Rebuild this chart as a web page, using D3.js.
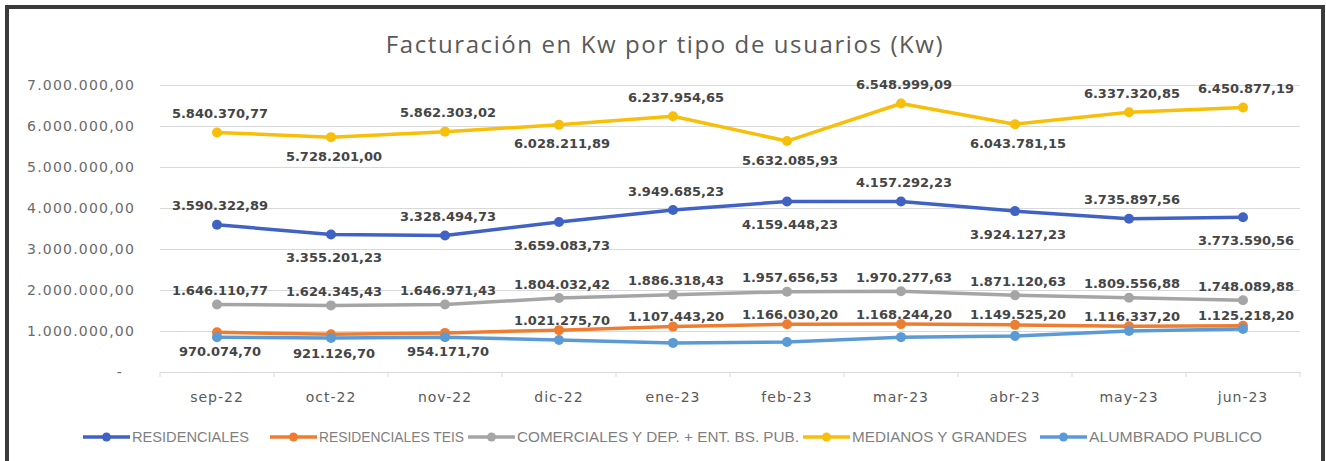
<!DOCTYPE html>
<html>
<head>
<meta charset="utf-8">
<script src="https://cdn.jsdelivr.net/npm/d3@7"></script>
<style>
  html, body { margin: 0; padding: 0; background: #fff; }
  svg { display: block; }
</style>
</head>
<body>
<svg id="chart" width="1326" height="461"></svg>
<script>
// ---- data ----
var months = ['sep-22', 'oct-22', 'nov-22', 'dic-22', 'ene-23', 'feb-23', 'mar-23', 'abr-23', 'may-23', 'jun-23'];

var residenciales = [3590322.89, 3355201.23, 3328494.73, 3659083.73, 3949685.23, 4159448.23, 4157292.23, 3924127.23, 3735897.56, 3773590.56];
var residencialesTeis = [970074.70, 921126.70, 954171.70, 1021275.70, 1107443.20, 1166030.20, 1168244.20, 1149525.20, 1116337.20, 1125218.20];
var comerciales = [1646110.77, 1624345.43, 1646971.43, 1804032.42, 1886318.43, 1957656.53, 1970277.63, 1871120.63, 1809556.88, 1748089.88];
var medianosGrandes = [5840370.77, 5728201.00, 5862303.02, 6028211.89, 6237954.65, 5632085.93, 6548999.09, 6043781.15, 6337320.85, 6450877.19];
// no labels in the picture, values estimated from the line
var alumbrado = [850000, 830000, 850000, 780000, 710000, 730000, 850000, 880000, 1000000, 1050000];

var yTicks = [0, 1000000, 2000000, 3000000, 4000000, 5000000, 6000000, 7000000];

// where Excel put each data label: a = above, b = below
var placeResid = ['a', 'b', 'a', 'b', 'a', 'b', 'a', 'b', 'a', 'b'];
var placeTeis = ['b', 'b', 'b', 'a', 'a', 'a', 'a', 'a', 'a', 'a'];
var placeComer = ['a', 'a', 'a', 'a', 'a', 'a', 'a', 'a', 'a', 'a'];
var placeMed = ['a', 'b', 'a', 'b', 'a', 'b', 'a', 'b', 'a', 'a'];

var series = [
    {name: 'RESIDENCIALES', values: residenciales, color: '#3f62c4', place: placeResid, above: -19, below: 23},
    {name: 'RESIDENCIALES TEIS', values: residencialesTeis, color: '#ed7d31', place: placeTeis, above: -10, below: 19},
    {name: 'COMERCIALES Y DEP. + ENT. BS. PUB.', values: comerciales, color: '#a5a5a5', place: placeComer, above: -14, below: 18},
    {name: 'MEDIANOS Y GRANDES', values: medianosGrandes, color: '#f7bf0a', place: placeMed, above: -19, below: 19},
    {name: 'ALUMBRADO PUBLICO', values: alumbrado, color: '#5b9bd5', place: null}
];

// legend layout (item start and text width)
var legendX = [83, 270, 468, 803, 1040];
var legendW = [117, 145, 282, 175, 173];

// ---- setup ----
var svg = d3.select('#chart');
var plot = {left: 160, right: 1300, top: 85, bottom: 372};

var locale = d3.formatLocale({decimal: ',', thousands: '.', grouping: [3], currency: ['', '']});
var fmt = locale.format(',.2f');

var x = d3.scaleBand().domain(months).range([plot.left, plot.right]);
var y = d3.scaleLinear().domain([0, 7000000]).range([plot.bottom, plot.top]);
function cx(i) { return x(months[i]) + x.bandwidth() / 2; }

// outer frame (left, top, right edges only)
svg.append('path')
    .attr('d', 'M7,461 L7,7 L1323,7 L1323,461')
    .attr('fill', 'none')
    .attr('stroke', '#3a3a3a')
    .attr('stroke-width', 4);

// title
svg.append('text')
    .attr('x', 665)
    .attr('y', 53)
    .attr('text-anchor', 'middle')
    .attr('font-family', 'Open Sans')
    .attr('font-size', 24)
    .attr('letter-spacing', 1.6)
    .attr('fill', '#595959')
    .text('Facturación en Kw por tipo de usuarios (Kw)');

// gridlines + y labels
var yAxis = d3.axisLeft(y)
    .tickValues(yTicks)
    .tickSize(-(plot.right - plot.left))
    .tickPadding(25)
    .tickFormat(function(d) { return d === 0 ? '-' : fmt(d); });

var gy = svg.append('g')
    .attr('transform', 'translate(' + plot.left + ',0)')
    .call(yAxis);
gy.select('.domain').remove();
gy.selectAll('.tick line').attr('stroke', '#d9d9d9').attr('stroke-width', 1);
gy.selectAll('.tick text')
    .attr('font-family', 'DejaVu Sans')
    .attr('font-size', 14)
    .attr('letter-spacing', 1.2)
    .attr('fill', '#6a6a6a');
gy.selectAll('.tick').filter(function(d) { return d === 0; }).select('text')
    .attr('dx', -12);

// x axis
var xAxis = d3.axisBottom(x).tickSize(0).tickPadding(20);
var gx = svg.append('g')
    .attr('transform', 'translate(0,' + plot.bottom + ')')
    .call(xAxis);
gx.select('.domain').attr('stroke', '#d9d9d9');
gx.selectAll('.tick text')
    .attr('font-family', 'DejaVu Sans')
    .attr('font-size', 14)
    .attr('letter-spacing', 1)
    .attr('fill', '#595959');
// category separators
gx.selectAll('.sep')
    .data(d3.range(months.length + 1))
    .enter().append('line')
    .attr('class', 'sep')
    .attr('x1', function(i) { return plot.left + i * x.bandwidth(); })
    .attr('x2', function(i) { return plot.left + i * x.bandwidth(); })
    .attr('y1', 0)
    .attr('y2', 5)
    .attr('stroke', '#d9d9d9');

// lines + markers
var line = d3.line()
    .x(function(d, i) { return cx(i); })
    .y(function(d) { return y(d); });

series.forEach(function(s) {
    var g = svg.append('g');
    g.append('path')
        .datum(s.values)
        .attr('d', line)
        .attr('fill', 'none')
        .attr('stroke', s.color)
        .attr('stroke-width', 3.5)
        .attr('stroke-linejoin', 'round');
    g.selectAll('circle')
        .data(s.values)
        .enter().append('circle')
        .attr('cx', function(d, i) { return cx(i); })
        .attr('cy', function(d) { return y(d); })
        .attr('r', 5)
        .attr('fill', s.color);
});

// data labels (drawn on top of all lines)
series.forEach(function(s) {
    if (!s.place) return;
    svg.append('g').selectAll('text')
        .data(s.values)
        .enter().append('text')
        .attr('x', function(d, i) { return cx(i) + 3; })
        .attr('y', function(d, i) { return y(d) + (s.place[i] === 'a' ? s.above : s.below); })
        .attr('dy', '0.35em')
        .attr('text-anchor', 'middle')
        .attr('font-family', 'DejaVu Sans')
        .attr('font-weight', 'bold')
        .attr('font-size', 13)
        .attr('fill', '#454545')
        .text(function(d) { return fmt(d); });
});

// legend
var legend = svg.append('g').attr('transform', 'translate(0,437)');
series.forEach(function(s, i) {
    var item = legend.append('g').attr('transform', 'translate(' + legendX[i] + ',0)');
    item.append('line')
        .attr('x1', 0).attr('x2', 47)
        .attr('y1', 0).attr('y2', 0)
        .attr('stroke', s.color)
        .attr('stroke-width', 3.5);
    item.append('circle')
        .attr('cx', 23.5).attr('cy', 0).attr('r', 4.5)
        .attr('fill', s.color);
    item.append('text')
        .attr('x', 49)
        .attr('dy', '0.35em')
        .attr('font-family', 'Liberation Sans')
        .attr('font-size', 14)
        .attr('textLength', legendW[i])
        .attr('lengthAdjust', 'spacingAndGlyphs')
        .attr('fill', '#7f7f7f')
        .text(s.name);
});
</script>
</body>
</html>
